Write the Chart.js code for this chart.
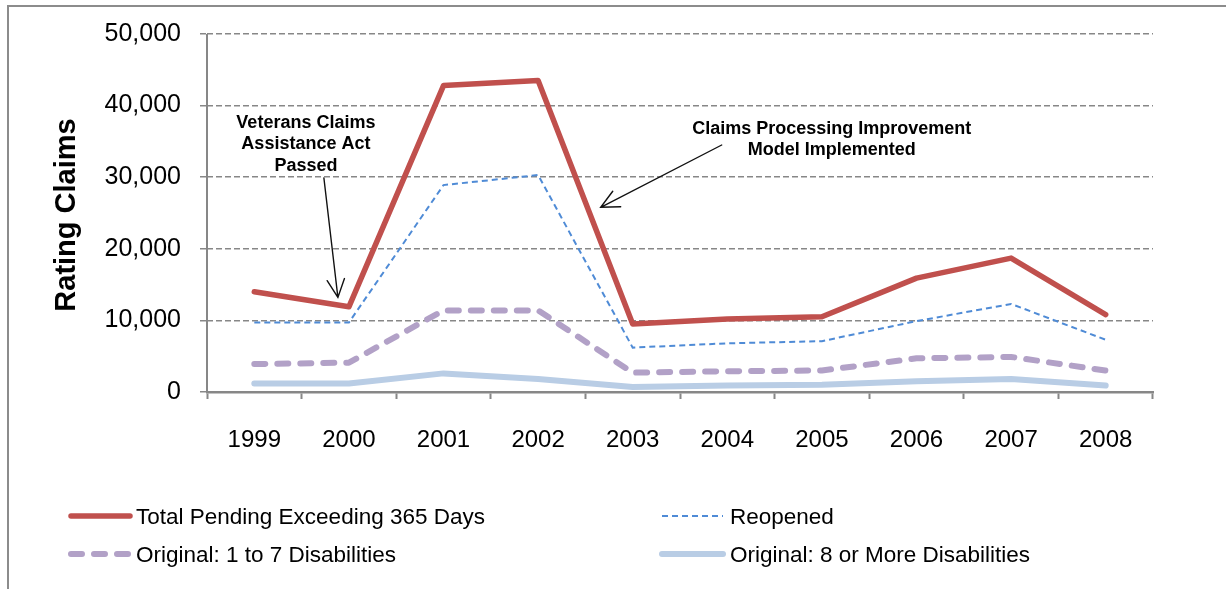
<!DOCTYPE html>
<html>
<head>
<meta charset="utf-8">
<title>Rating Claims Pending Over 365 Days</title>
<script src="https://cdn.jsdelivr.net/npm/chart.js@4.4.1/dist/chart.umd.min.js"></script>
<style>
  html, body { margin: 0; padding: 0; background: #ffffff; }
  #wrap { width: 1226px; height: 589px; position: relative; }
</style>
</head>
<body>
<div id="wrap"><canvas id="chart" width="1226" height="589"></canvas></div>
<script>
// Fiscal years on the category axis
const years = ['1999', '2000', '2001', '2002', '2003', '2004', '2005', '2006', '2007', '2008'];

// Pending rating claims older than 365 days, by type
const totalPending = [14000, 11900, 42800, 43500, 9500, 10200, 10500, 15900, 18700, 10800];
const reopened     = [9700, 9700, 28900, 30300, 6200, 6800, 7100, 9900, 12300, 7300];
const original1to7 = [3900, 4100, 11400, 11400, 2700, 2900, 3000, 4700, 4900, 3000];
const original8up  = [1200, 1200, 2600, 1800, 700, 900, 1000, 1500, 1800, 900];

// Value axis
const yMax = 50000;
const yStep = 10000;

const seriesNames = [
  'Total Pending Exceeding 365 Days',
  'Reopened',
  'Original: 1 to 7 Disabilities',
  'Original: 8 or More Disabilities'
];

const FONT = '"Liberation Sans", Arial, Helvetica, sans-serif';
const AXIS_GRAY = '#878787';

// Frame, axis title, event callouts and the two-column legend
const decorations = {
  id: 'decorations',
  beforeDraw(chart) {
    const ctx = chart.ctx;
    ctx.save();
    ctx.fillStyle = '#ffffff';
    ctx.fillRect(0, 0, chart.width, chart.height);
    ctx.strokeStyle = '#8c8c8c';
    ctx.lineWidth = 2;
    ctx.beginPath();
    ctx.moveTo(8, chart.height);
    ctx.lineTo(8, 6);
    ctx.lineTo(chart.width, 6);
    ctx.stroke();
    ctx.restore();
  },
  afterDraw(chart) {
    const ctx = chart.ctx;
    const xs = chart.scales.x;
    const ys = chart.scales.y;
    const area = chart.chartArea;
    ctx.save();

    // Value axis line drawn solid over the dashed zero gridline area
    ctx.strokeStyle = AXIS_GRAY;
    ctx.lineWidth = 2;
    ctx.beginPath();
    ctx.moveTo(area.left, area.top);
    ctx.lineTo(area.left, area.bottom);
    ctx.stroke();

    // Axis title
    ctx.translate(67, (area.top + area.bottom) / 2 + 2);
    ctx.rotate(-Math.PI / 2);
    ctx.fillStyle = '#000000';
    ctx.font = 'bold 29px ' + FONT;
    ctx.textAlign = 'center';
    ctx.textBaseline = 'middle';
    ctx.fillText('Rating Claims', 0, 0);
    ctx.setTransform(1, 0, 0, 1, 0, 0);

    // Callouts
    ctx.font = 'bold 18px ' + FONT;
    ctx.textAlign = 'center';
    ctx.textBaseline = 'middle';
    const x2000 = xs.getPixelForValue(1);
    const x2003 = xs.getPixelForValue(4);
    const noteA = ['Veterans Claims', 'Assistance Act', 'Passed'];
    noteA.forEach((t, i) => ctx.fillText(t, x2000 - 43, 123 + i * 21.5));
    const noteB = ['Claims Processing Improvement', 'Model Implemented'];
    noteB.forEach((t, i) => ctx.fillText(t, x2003 + 199, 129 + i * 21.5));

    arrow(ctx, x2000 - 25, 178, x2000 - 11, ys.getPixelForValue(13200));
    arrow(ctx, x2003 + 89, 145, x2003 - 32, ys.getPixelForValue(25800));

    // Legend
    const ds = chart.data.datasets;
    const rows = [516, 554];
    const cols = [{ x0: 71, x1: 130, tx: 136 }, { x0: 662, x1: 723, tx: 730 }];
    const slots = [[0, 0, 0], [1, 0, 1], [2, 1, 0], [3, 1, 1]];
    ctx.font = '22.5px ' + FONT;
    ctx.textAlign = 'left';
    ctx.textBaseline = 'middle';
    slots.forEach(([i, r, c]) => {
      const d = ds[i];
      const col = cols[c];
      const y = rows[r];
      ctx.save();
      ctx.strokeStyle = d.borderColor;
      ctx.lineWidth = d.borderWidth;
      ctx.lineCap = d.borderCapStyle || 'butt';
      ctx.setLineDash(d.borderDash || []);
      ctx.beginPath();
      ctx.moveTo(col.x0, y);
      ctx.lineTo(col.x1, y);
      ctx.stroke();
      ctx.restore();
      ctx.fillStyle = '#000000';
      ctx.fillText(d.label, col.tx, y + 2);
    });

    ctx.restore();
  }
};

function arrow(ctx, x1, y1, x2, y2) {
  const ang = Math.atan2(y2 - y1, x2 - x1);
  const len = 20;
  const spread = 0.45;
  ctx.save();
  ctx.strokeStyle = '#111111';
  ctx.lineWidth = 1.4;
  ctx.lineCap = 'round';
  ctx.beginPath();
  ctx.moveTo(x1, y1);
  ctx.lineTo(x2, y2);
  ctx.moveTo(x2 - len * Math.cos(ang - spread), y2 - len * Math.sin(ang - spread));
  ctx.lineTo(x2, y2);
  ctx.lineTo(x2 - len * Math.cos(ang + spread), y2 - len * Math.sin(ang + spread));
  ctx.stroke();
  ctx.restore();
}

new Chart(document.getElementById('chart'), {
  type: 'line',
  data: {
    labels: years,
    datasets: [
      {
        label: seriesNames[0],
        data: totalPending,
        borderColor: '#C0504D',
        borderWidth: 5.5,
        borderJoinStyle: 'round',
        borderCapStyle: 'round'
      },
      {
        label: seriesNames[1],
        data: reopened,
        borderColor: '#4F8BD6',
        borderWidth: 2,
        borderDash: [6, 4],
        borderCapStyle: 'butt'
      },
      {
        label: seriesNames[2],
        data: original1to7,
        borderColor: '#B2A1C7',
        borderWidth: 6,
        borderDash: [11, 12],
        borderCapStyle: 'round',
        borderJoinStyle: 'round'
      },
      {
        label: seriesNames[3],
        data: original8up,
        borderColor: '#B9CDE5',
        borderWidth: 6,
        borderJoinStyle: 'round',
        borderCapStyle: 'round'
      }
    ]
  },
  options: {
    responsive: false,
    animation: false,
    events: [],
    devicePixelRatio: 1,
    layout: { padding: { left: 0, top: 31, right: 73, bottom: 100 } },
    elements: {
      point: { radius: 0, hoverRadius: 0 },
      line: { tension: 0, fill: false }
    },
    plugins: {
      legend: { display: false },
      tooltip: { enabled: false },
      title: { display: false }
    },
    scales: {
      x: {
        type: 'category',
        offset: true,
        grid: {
          display: true,
          offset: true,
          drawOnChartArea: false,
          drawTicks: true,
          tickLength: 7,
          tickColor: AXIS_GRAY,
          tickWidth: 2
        },
        border: { display: true, color: AXIS_GRAY, width: 2.5 },
        ticks: {
          color: '#000000',
          font: { family: FONT, size: 24 },
          padding: 27,
          maxRotation: 0,
          autoSkip: false
        },
        afterFit(scale) { scale.height = 97; }
      },
      y: {
        min: 0,
        max: yMax,
        grid: {
          color: AXIS_GRAY,
          lineWidth: 1.5,
          tickBorderDash: [6, 3],
          tickLength: 7,
          tickColor: AXIS_GRAY,
          tickWidth: 1.5
        },
        border: { display: false, color: AXIS_GRAY, width: 2, dash: [6, 3] },
        ticks: {
          stepSize: yStep,
          color: '#000000',
          font: { family: FONT, size: 25 },
          padding: 19,
          callback: v => v.toLocaleString('en-US')
        },
        afterFit(scale) { scale.width = 207; }
      }
    }
  },
  plugins: [decorations]
});
</script>
</body>
</html>
